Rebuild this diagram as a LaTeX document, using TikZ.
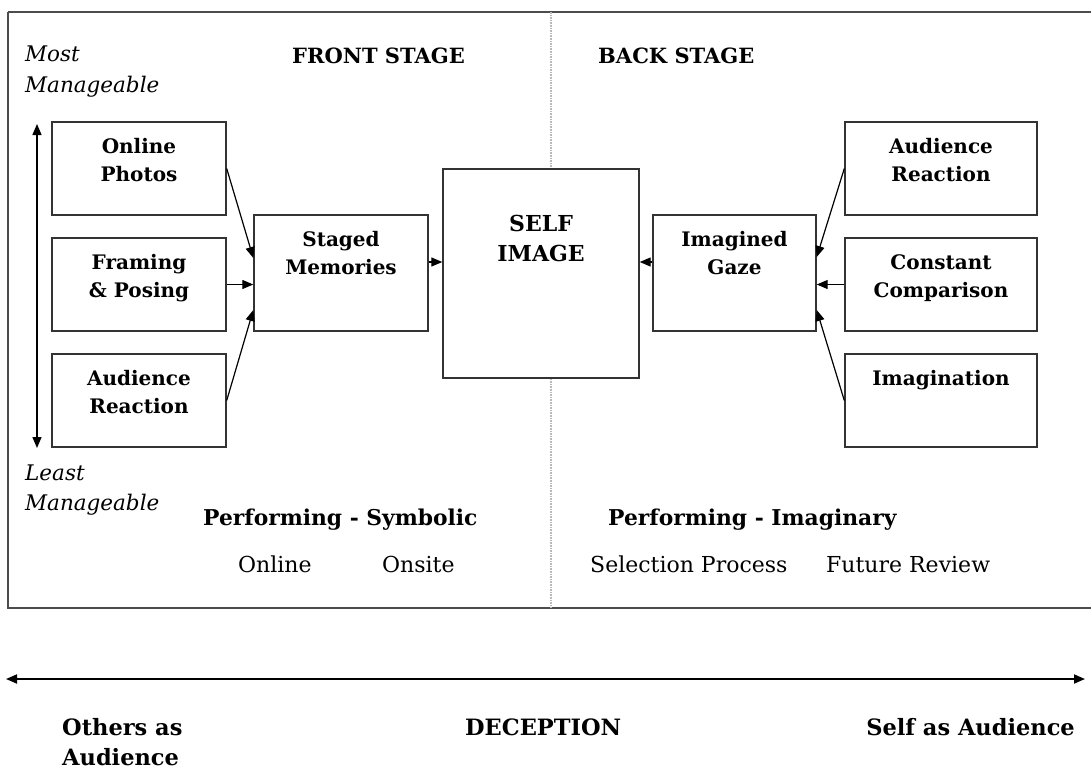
\documentclass[tikz,border=0pt]{standalone}
\usepackage{fontspec}
\setmainfont{DejaVu Serif}
\usetikzlibrary{arrows.meta}

\begin{document}
\begin{tikzpicture}[x=1pt,y=-1pt,
  >={Triangle[length=11pt,width=9pt]},
  frame/.style={draw=black!70, line width=1.6pt},
  box/.style={draw=black!80, line width=1.4pt, fill=white, inner sep=0pt},
  smallbox/.style={box, minimum width=174pt, minimum height=93pt},
  midbox/.style={box, minimum height=116pt},
  boxtext/.style={font=\bfseries\fontsize{20}{28}\selectfont, align=center, anchor=north, inner sep=0pt},
  head/.style={font=\bfseries\fontsize{21}{25}\selectfont, anchor=base west, inner sep=0pt},
  perf/.style={font=\bfseries\fontsize{21.8}{26}\selectfont, anchor=base west, inner sep=0pt},
  plain/.style={font=\fontsize{22}{26}\selectfont, anchor=base west, inner sep=0pt},
  scalelabel/.style={font=\itshape\fontsize{21.5}{26}\selectfont, anchor=base west, inner sep=0pt},
  axis/.style={font=\bfseries\fontsize{22.5}{26}\selectfont, inner sep=0pt},
  link/.style={->, line width=1.2pt},
]
\useasboundingbox (0,0) rectangle (1091,769);

% outer frame and the stage divider
\draw[frame] (8,12) -- (1095,12);
\draw[frame] (8,12) -- (8,608) -- (1095,608);
\draw[gray!55, line width=1.6pt, densely dotted] (551,12) -- (551,608);

% front stage boxes
\node[smallbox] (op) at (139,168.5) {};
\node[smallbox] (fp) at (139,284.5) {};
\node[smallbox] (arl) at (139,400.5) {};
\node[midbox, minimum width=174pt] (sm) at (341,273) {};
\node[box, minimum width=196pt, minimum height=209pt] (si) at (541,273.5) {};
\node[midbox, minimum width=163pt] (ig) at (734.5,273) {};
% back stage boxes
\node[smallbox, minimum width=192pt] (arr) at (941,168.5) {};
\node[smallbox, minimum width=192pt] (cc) at (941,284.5) {};
\node[smallbox, minimum width=192pt] (im) at (941,400.5) {};

% box labels
\node[boxtext] (op-t) at ([yshift=-17pt]op.north) {Online\\Photos};
\node[boxtext] (fp-t) at ([yshift=-17pt]fp.north) {Framing\\\& Posing};
\node[boxtext] (arl-t) at ([yshift=-17pt]arl.north) {Audience\\Reaction};
\node[boxtext] (sm-t) at ([yshift=-17pt]sm.north) {Staged\\Memories};
\node[boxtext, font=\bfseries\fontsize{22}{30}\selectfont] (si-t) at ([yshift=-47pt]si.north) {SELF\\IMAGE};
\node[boxtext] (ig-t) at ([yshift=-17pt]ig.north) {Imagined\\Gaze};
\node[boxtext] (arr-t) at ([yshift=-17pt]arr.north) {Audience\\Reaction};
\node[boxtext] (cc-t) at ([yshift=-17pt]cc.north) {Constant\\Comparison};
\node[boxtext] (im-t) at ([yshift=-17pt]im.north) {Imagination};

% connectors
\draw[link] (op.east) -- ([yshift=15pt]sm.west);
\draw[link] (fp.east) -- (fp.east -| sm.west);
\draw[link] (arl.east) -- ([yshift=-37pt]sm.west);
\draw[link] ([yshift=11pt]sm.east) -- ([yshift=11pt]sm.east -| si.west);
\draw[link] ([yshift=11pt]ig.west) -- ([yshift=11pt]ig.west -| si.east);
\draw[link] (arr.west) -- ([yshift=16pt]ig.east);
\draw[link] (cc.west) -- (cc.west -| ig.east);
\draw[link] (im.west) -- ([yshift=-37pt]ig.east);

% manageability scale
\coordinate (mtop) at (37,124);
\coordinate (mbot) at (37,448);
\draw[<->, line width=1.4pt] (mbot) -- (mtop);
\node[scalelabel] (most1) at (25,61) {Most};
\node[scalelabel] (most2) at (25,92) {Manageable};
\node[scalelabel] (least1) at (25,480) {Least};
\node[scalelabel] (least2) at (25,510) {Manageable};

% stage headings
\node[head] (front) at (292,63) {FRONT STAGE};
\node[head] (back) at (598,63) {BACK STAGE};
\node[perf] (psym) at (203,525) {Performing - Symbolic};
\node[perf] (pima) at (608,525) {Performing - Imaginary};
\node[plain] (onl) at (238,572) {Online};
\node[plain] (ons) at (382,572) {Onsite};
\node[plain] (sel) at (590,572) {Selection Process};
\node[plain] (fut) at (826,572) {Future Review};

% audience axis
\coordinate (al) at (6,679);
\coordinate (ar) at (1085,679);
\draw[<->, line width=1.8pt] (al) -- (ar);
\node[axis, anchor=base west] (oth1) at (62,735) {Others as};
\node[axis, anchor=base west] (oth2) at (62,765) {Audience};
\node[axis, anchor=base west] (dec) at (465,735) {DECEPTION};
\node[axis, anchor=base east] (slf) at (1075,735) {Self as Audience};
\end{tikzpicture}
\end{document}
